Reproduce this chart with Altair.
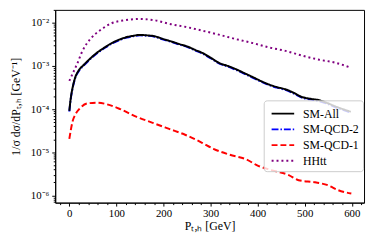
import altair as alt
import pandas as pd

series_names = ["SM-All", "SM-QCD-2", "SM-QCD-1", "HHtt"]
series_colors = ["#000000", "#0000ff", "#ff0000", "#800080"]
series_dash = [[1, 0], [7, 2, 1.5, 2], [6, 3], [2, 3]]

# SM-All (black, solid)
pt_all = [0, 3, 7, 13, 20, 31, 45, 59, 75, 90, 106, 122, 136, 150, 165, 181, 198, 216,
          233, 251, 268, 285, 302, 320, 337, 355, 372, 390, 407, 424, 441, 459, 476,
          494, 511, 529, 546, 564, 581, 598]
val_all = [9.1e-5, 1.78e-4, 3.16e-4, 5.6e-4, 7.9e-4, 1.07e-3, 1.51e-3, 2.04e-3, 2.69e-3,
           3.39e-3, 4.07e-3, 4.68e-3, 5.01e-3, 5.25e-3, 5.13e-3, 4.90e-3, 4.27e-3, 3.72e-3,
           3.24e-3, 2.82e-3, 2.34e-3, 1.95e-3, 1.51e-3, 1.15e-3, 1.0e-3, 8.3e-4, 6.8e-4,
           5.5e-4, 4.47e-4, 3.72e-4, 3.24e-4, 2.88e-4, 2.40e-4, 1.91e-4, 1.74e-4, 1.62e-4,
           1.41e-4, 1.17e-4, 1.0e-4, 8.7e-5]

# SM-QCD-2 (blue, dash-dot)
pt_qcd2 = [0, 3, 7, 13, 20, 31, 45, 59, 75, 90, 106, 122, 136, 150, 165, 181, 198, 216,
           233, 251, 268, 285, 302, 320, 337, 355, 372, 390, 407, 424, 441, 459, 476,
           494, 511, 529, 546, 564, 581, 598]
val_qcd2 = [8.8e-5, 1.70e-4, 3.05e-4, 5.4e-4, 7.6e-4, 1.03e-3, 1.46e-3, 1.98e-3, 2.61e-3,
            3.30e-3, 3.97e-3, 4.56e-3, 4.90e-3, 5.14e-3, 5.02e-3, 4.78e-3, 4.16e-3, 3.62e-3,
            3.15e-3, 2.75e-3, 2.28e-3, 1.89e-3, 1.47e-3, 1.12e-3, 9.7e-4, 8.0e-4, 6.6e-4,
            5.3e-4, 4.33e-4, 3.60e-4, 3.14e-4, 2.78e-4, 2.32e-4, 1.84e-4, 1.68e-4, 1.55e-4,
            1.36e-4, 1.12e-4, 9.6e-5, 8.3e-5]

# SM-QCD-1 (red, dashed)
pt_qcd1 = [0, 7, 14, 21, 38, 59, 80, 108, 143, 177, 212, 247, 280, 306, 341, 376, 400,
           431, 466, 487, 522, 550, 571, 599]
val_qcd1 = [2.04e-5, 5.2e-5, 7.9e-5, 1.0e-4, 1.35e-4, 1.41e-4, 1.29e-4, 1.0e-4, 6.6e-5,
            4.8e-5, 3.47e-5, 2.51e-5, 1.70e-5, 1.20e-5, 8.7e-6, 6.8e-6, 4.9e-6, 3.8e-6,
            2.95e-6, 2.24e-6, 2.0e-6, 1.70e-6, 1.32e-6, 1.10e-6]

# HHtt (purple, dotted)
pt_hhtt = [0, 7, 17, 28, 45, 66, 90, 118, 150, 181, 216, 251, 285, 320, 355, 390, 424,
           459, 494, 529, 564, 598]
val_hhtt = [4.5e-4, 6.6e-4, 1.15e-3, 2.24e-3, 4.27e-3, 6.8e-3, 9.8e-3, 1.15e-2, 1.23e-2,
            1.15e-2, 9.3e-3, 7.9e-3, 6.5e-3, 5.25e-3, 4.17e-3, 3.39e-3, 2.69e-3, 2.24e-3,
            1.74e-3, 1.41e-3, 1.20e-3, 9.1e-4]

x_ticks = list(range(-20, 621, 20))
y_ticks = []
for k in range(-7, -1):
    for m in range(1, 10):
        v = m * 10.0 ** k
        if 6.8e-7 <= v <= 0.02:
            y_ticks.append(float(f"{v:.3g}"))

# drawing order: blue below black
frames = []
for name, xs, ys in [("SM-QCD-2", pt_qcd2, val_qcd2), ("SM-All", pt_all, val_all),
                     ("SM-QCD-1", pt_qcd1, val_qcd1), ("HHtt", pt_hhtt, val_hhtt)]:
    frames.append(pd.DataFrame({"pt": xs, "val": ys, "series": name}))
df = pd.concat(frames, ignore_index=True)

e = "round(log(datum.value)/LN10)"
dec_test = f"abs(log(datum.value)/LN10 - {e}) < 0.001"
sup = {-2: "⁻²", -3: "⁻³", -4: "⁻⁴", -5: "⁻⁵", -6: "⁻⁶", -7: "⁻⁷"}
label_expr = f"!({dec_test}) ? '' : " + " : ".join(
    [f"{e} == {k} ? '10{s}'" for k, s in sup.items()]) + " : ''"

font = "Liberation Serif"

chart = alt.Chart(df).mark_line(strokeWidth=2, interpolate="monotone", clip=True).encode(
    x=alt.X("pt:Q", scale=alt.Scale(domain=[-30, 626], nice=False, zero=False),
            axis=alt.Axis(values=x_ticks, title="Pₜ,ₕ [GeV]",
                          labelExpr="datum.value % 100 === 0 ? datum.label : ''",
                          tickSize={"condition": {"test": "datum.value % 100 === 0", "value": 3.5}, "value": 2},
                          labelOverlap=False, labelFlush=False, grid=False,
                          labelFontSize=11, titleFontSize=12, titleFontStyle="normal",
                          labelPadding=2, titlePadding=2)),
    y=alt.Y("val:Q", scale=alt.Scale(type="log", domain=[6.76e-7, 0.02], nice=False),
            axis=alt.Axis(values=y_ticks, title="1/σ dσ/dPₜ,ₕ [GeV⁻¹]",
                          labelExpr=label_expr,
                          tickSize={"condition": {"test": dec_test, "value": 3.5}, "value": 2},
                          labelOverlap=False, labelFlush=False, grid=False,
                          labelFontSize=11, titleFontSize=12, labelPadding=3, titlePadding=8)),
    color=alt.Color("series:N", scale=alt.Scale(domain=series_names, range=series_colors),
                    legend=alt.Legend(title=None, orient="none", legendX=212, legendY=92,
                                      symbolType="M-1.35,0L1.35,0", symbolSize=289,
                                      symbolStrokeWidth=2, symbolOffset=6,
                                      labelFontSize=12, labelFont=font, rowPadding=0,
                                      padding=4, labelOffset=11,
                                      fillColor="rgba(255,255,255,0.8)", strokeColor="#cccccc",
                                      cornerRadius=3)),
    strokeDash=alt.StrokeDash("series:N", scale=alt.Scale(domain=series_names, range=series_dash),
                              legend=None),
    detail="series:N",
).properties(
    width=314, height=196,
    autosize=alt.AutoSizeParams(type="none"),
    padding={"left": 48, "top": 0, "right": 2, "bottom": 32},
).configure_view(stroke="#000000", strokeWidth=1).configure_axis(
    labelFont=font, titleFont=font, labelColor="#000", titleColor="#000",
    tickColor="#000", domainColor="#000", titleFontWeight="normal",
).configure_legend(labelColor="#000")

chart.save("out.html", embed_options={"renderer": "svg", "actions": False})
